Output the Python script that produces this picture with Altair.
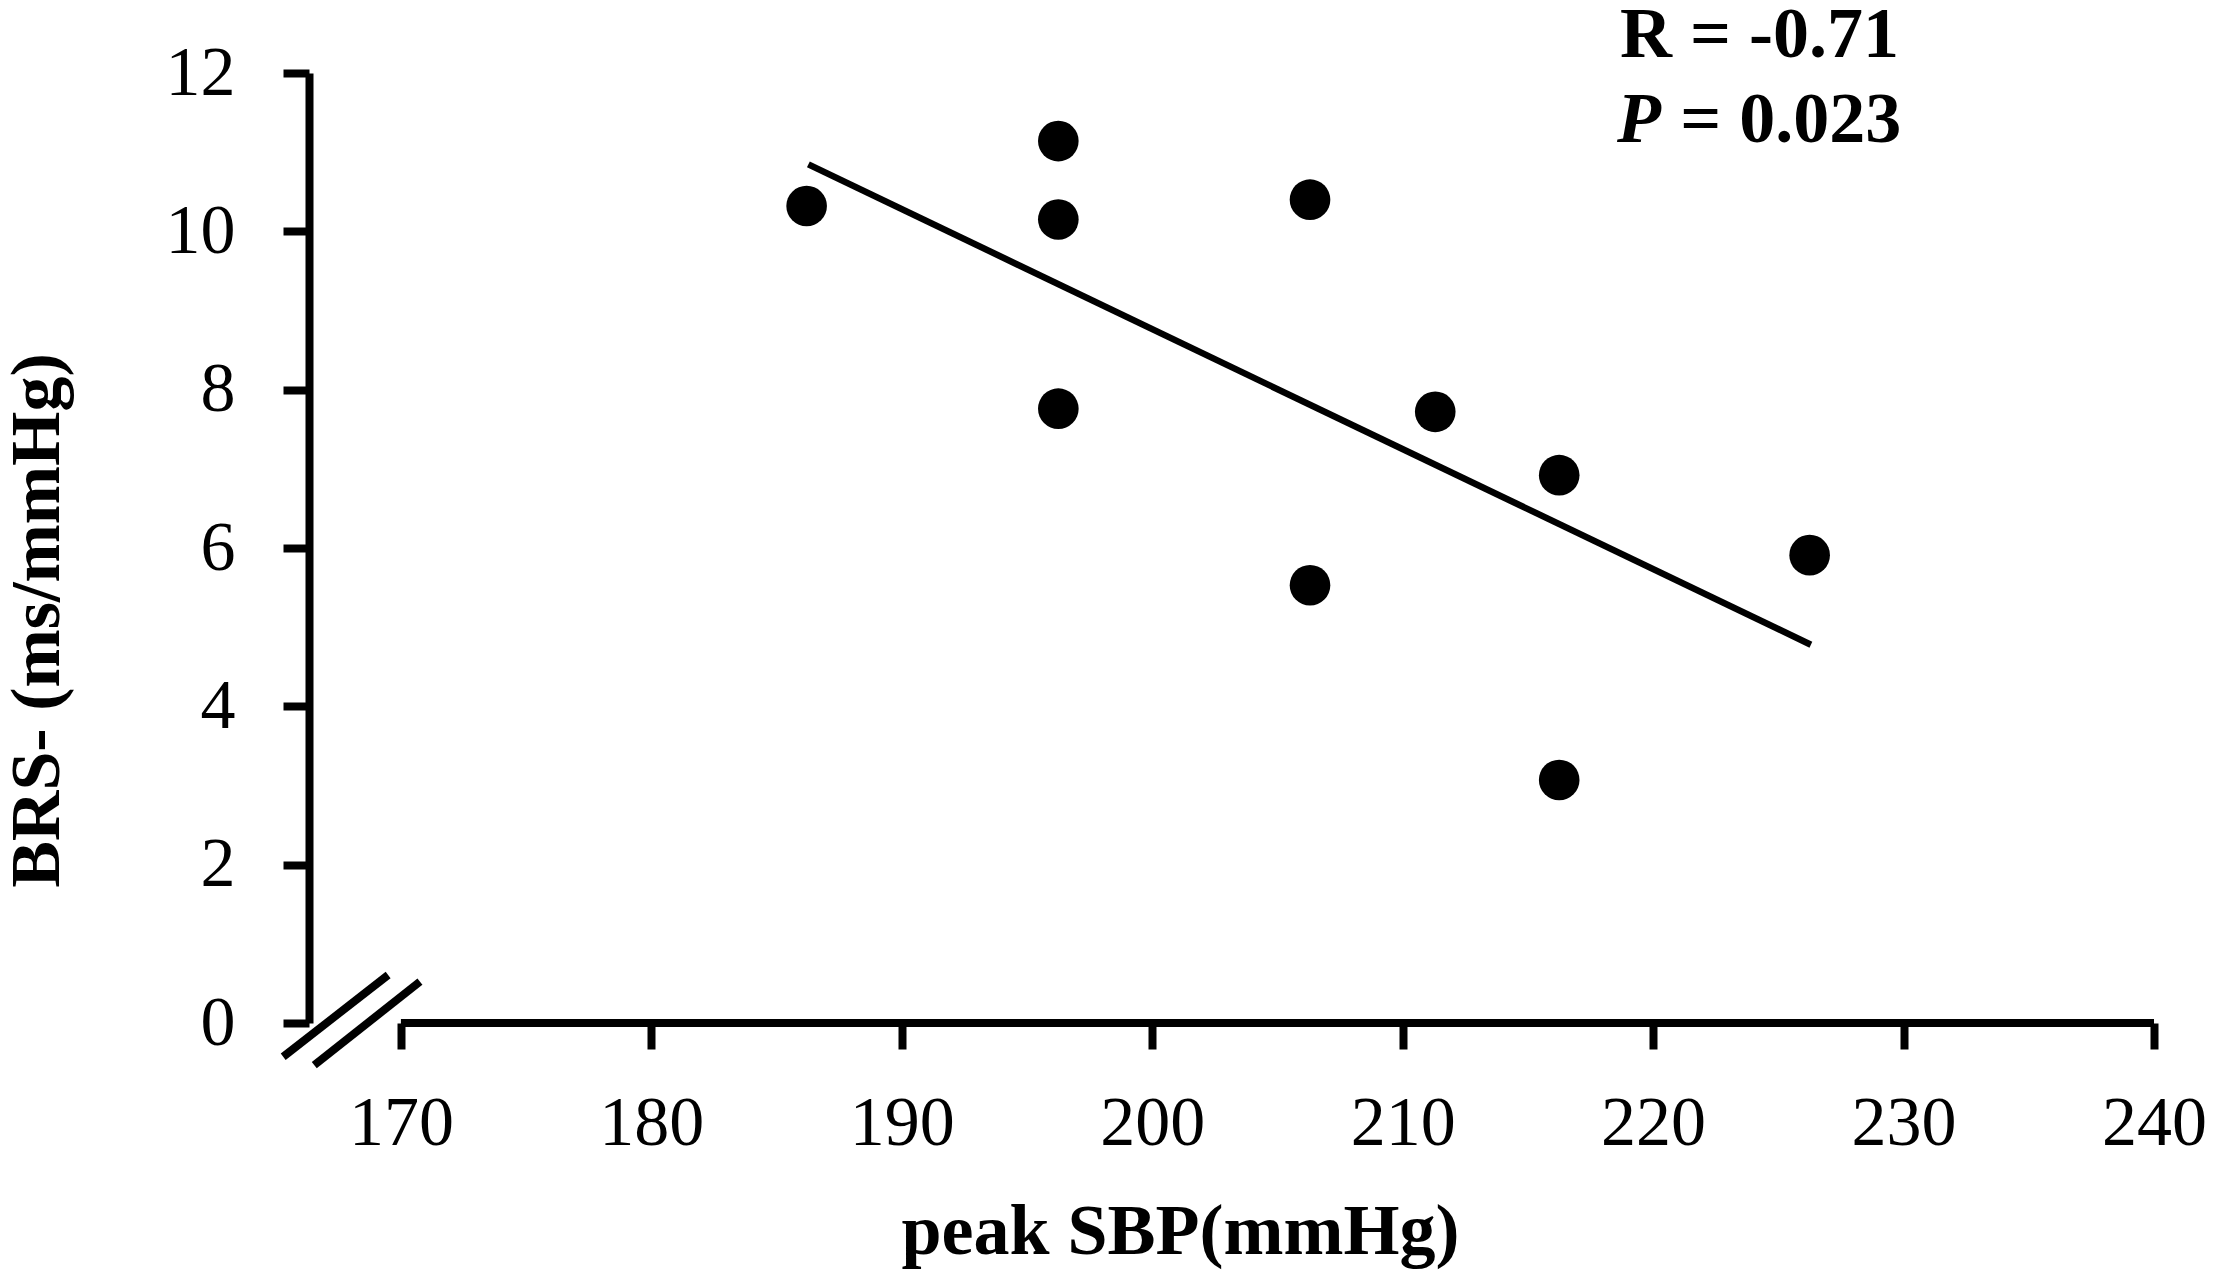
import altair as alt
import pandas as pd

# Data
sbp = [186.2, 196.25, 196.25, 196.25, 206.3, 206.3, 211.3, 216.25, 216.25, 226.25]
brs = [10.32, 11.14, 10.15, 7.76, 10.40, 5.53, 7.72, 6.92, 3.07, 5.91]

x_ticks = [170, 180, 190, 200, 210, 220, 230, 240]
y_ticks = [0, 2, 4, 6, 8, 10, 12]

fit_extent = [186.27, 226.3]

# axis-break marks (data units)
brk_x = [165.30, 166.54]
brk_y = [-0.426, -0.531]
brk_x2 = [169.49, 170.76]
brk_y2 = [0.606, 0.522]

# x-axis baseline (starts at 170 because of the break)
base_x = [170]
base_x2 = [240]
base_y = [0]

# annotations
ann_text = ["R = -0.71", "P", "= 0.023"]
ann_x = [218.68, 218.56, 221.08]
ann_y = [12.20, 11.13, 11.13]
ann_style = ["normal", "italic", "normal"]

FONT = "Liberation Serif"
X_DOMAIN = [166.33, 240]
Y_DOMAIN = [0, 12]

def X(field="x"):
    return alt.X(
        f"{field}:Q",
        scale=alt.Scale(domain=X_DOMAIN, nice=False, zero=False),
        axis=alt.Axis(
            title="peak SBP(mmHg)",
            values=x_ticks,
            domain=False,
            grid=False,
            ticks=True,
            tickSize=26,
            tickWidth=8,
            tickColor="black",
            labelFont=FONT,
            labelFontSize=70,
            labelColor="black",
            labelBaseline="alphabetic",
            labelPadding=95,
            labelFlush=False,
            labelOverlap=False,
            titleFont=FONT,
            titleFontSize=72,
            titleFontWeight="bold",
            titleColor="black",
            titleX=871,
            titleY=230,
            titleBaseline="alphabetic",
            titleAlign="center",
        ),
    )

def Y(field="y"):
    return alt.Y(
        f"{field}:Q",
        scale=alt.Scale(domain=Y_DOMAIN, nice=False, zero=False),
        axis=alt.Axis(
            title="BRS- (ms/mmHg)",
            values=y_ticks,
            domain=True,
            domainColor="black",
            domainWidth=8,
            grid=False,
            tickSize=26,
            tickWidth=8,
            tickColor="black",
            labelFont=FONT,
            labelFontSize=70,
            labelColor="black",
            labelPadding=48,
            labelFlush=False,
            labelOverlap=False,
            titleFont=FONT,
            titleFontSize=70,
            titleFontWeight="bold",
            titleColor="black",
            titleAngle=270,
            titleX=-251,
            titleY=547,
            titleBaseline="alphabetic",
            titleAlign="center",
        ),
    )

pts = pd.DataFrame({"x": sbp, "y": brs})

points = alt.Chart(pts).mark_circle(size=1650, color="black", opacity=1).encode(
    x=X(), y=Y()
)

fit = (
    alt.Chart(pts)
    .transform_regression("x", "y", extent=fit_extent)
    .mark_line(color="black", strokeWidth=6.5)
    .encode(x=X(), y=Y())
)

base_df = pd.DataFrame({"x": base_x, "x2": base_x2, "y": base_y})
baseline = alt.Chart(base_df).mark_rule(color="black", strokeWidth=8).encode(
    x=X(), x2="x2:Q", y=Y()
)

brk_df = pd.DataFrame({"x": brk_x, "y": brk_y, "x2": brk_x2, "y2": brk_y2})
breaks = alt.Chart(brk_df).mark_rule(color="black", strokeWidth=8).encode(
    x=X(), x2="x2:Q", y=Y(), y2="y2:Q"
)

ann_df = pd.DataFrame({"x": ann_x, "y": ann_y, "t": ann_text, "s": ann_style})
ann_normal = alt.Chart(ann_df[ann_df.s == "normal"]).mark_text(
    align="left", baseline="alphabetic", font=FONT, fontSize=72,
    fontWeight="bold", color="black"
).encode(x=X(), y=Y(), text="t:N")
ann_italic = alt.Chart(ann_df[ann_df.s == "italic"]).mark_text(
    align="left", baseline="alphabetic", font=FONT, fontSize=72,
    fontWeight="bold", fontStyle="italic", color="black"
).encode(x=X(), y=Y(), text="t:N")

chart = (
    alt.layer(baseline, breaks, fit, points, ann_normal, ann_italic)
    .properties(
        width=1845,
        height=950,
        autosize=alt.AutoSizeParams(type="none"),
        padding={"left": 301, "top": 65, "right": 55, "bottom": 247},
        background="white",
    )
    .configure_view(stroke=None)
)

chart.save("out.html", embed_options={"renderer": "svg", "actions": False})
